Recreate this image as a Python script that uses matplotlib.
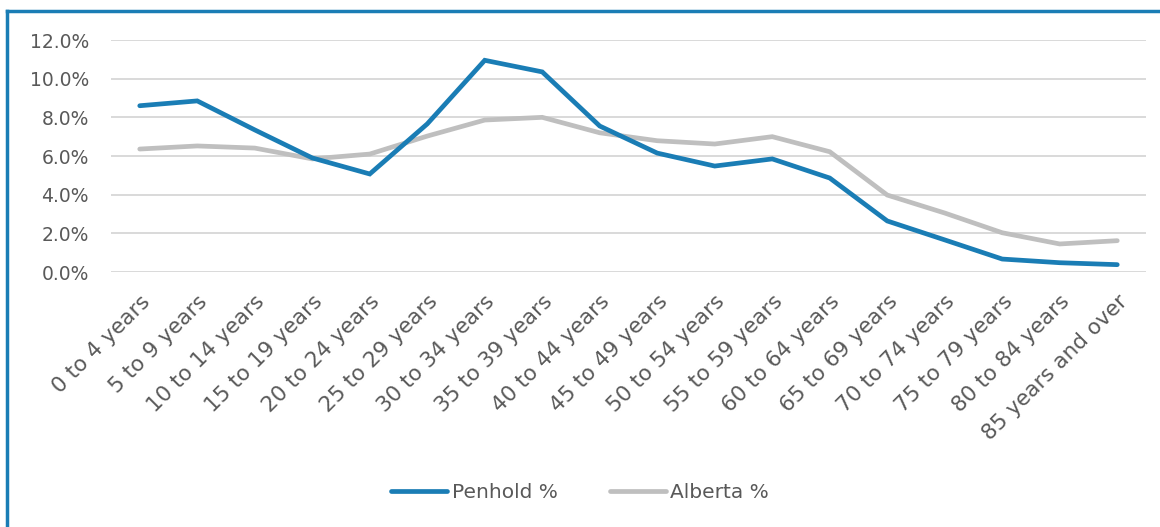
import matplotlib
matplotlib.use('Agg')
import matplotlib.pyplot as plt
from matplotlib.lines import Line2D
from matplotlib.ticker import FuncFormatter

# Datos: distribución por grupos de edad
age_groups = ["0 to 4 years", "5 to 9 years", "10 to 14 years", "15 to 19 years",
              "20 to 24 years", "25 to 29 years", "30 to 34 years", "35 to 39 years",
              "40 to 44 years", "45 to 49 years", "50 to 54 years", "55 to 59 years",
              "60 to 64 years", "65 to 69 years", "70 to 74 years", "75 to 79 years",
              "80 to 84 years", "85 years and over"]
penhold = [8.6, 8.85, 7.35, 5.9, 5.07, 7.66, 10.95, 10.35, 7.55, 6.15,
           5.48, 5.85, 4.86, 2.64, 1.66, 0.67, 0.48, 0.38]
alberta = [6.36, 6.52, 6.41, 5.85, 6.1, 7.03, 7.86, 8.0, 7.2, 6.79,
           6.62, 7.0, 6.22, 3.98, 3.05, 2.03, 1.45, 1.62]

plt.rcParams['font.family'] = ['DejaVu Sans']
text_color = '#595959'
blue = '#1a7db5'
gray = '#bfbfbf'

fig = plt.figure(figsize=(11.6, 5.27), dpi=100)
ax = fig.add_axes([111 / 1160, 1 - 272 / 527, 1035 / 1160, 232 / 527])

x = range(len(age_groups))
ax.plot(x, penhold, color=blue, linewidth=3.4, solid_capstyle='round',
        solid_joinstyle='miter', label='Penhold %', zorder=3)
ax.plot(x, alberta, color=gray, linewidth=3.4, solid_capstyle='round',
        solid_joinstyle='miter', label='Alberta %', zorder=2)

ax.set_xlim(-0.5, len(age_groups) - 0.5)
ax.set_ylim(0, 12)
ax.set_yticks([0, 2, 4, 6, 8, 10, 12])
ax.yaxis.set_major_formatter(FuncFormatter(lambda v, p: f"{v:.1f}%"))
ax.grid(axis='y', color='#d9d9d9', linewidth=1.4, zorder=0)
ax.set_axisbelow(True)
for s in ax.spines.values():
    s.set_visible(False)
ax.tick_params(axis='both', length=0, colors=text_color, labelsize=13.5)
ax.tick_params(axis='y', pad=16)

ax.set_xticks(list(x))
ax.set_xticklabels(age_groups, rotation=45, ha='right', rotation_mode='anchor',
                   color=text_color, fontsize=15.5)
ax.tick_params(axis='x', pad=14)

# Leyenda
leg = fig.legend(loc='center', bbox_to_anchor=(0.5, 1 - 493 / 527), ncol=2,
                 frameon=False, fontsize=14.5, handlelength=2.8, columnspacing=2.6,
                 handletextpad=0.2)
for t in leg.get_texts():
    t.set_color(text_color)

# Borde azul del recuadro
fig.add_artist(Line2D([7 / 1160, 7 / 1160], [0, 1 - 11 / 527], color=blue,
                      linewidth=2.5, transform=fig.transFigure))
fig.add_artist(Line2D([7 / 1160, 1], [1 - 11 / 527, 1 - 11 / 527], color=blue,
                      linewidth=2.5, transform=fig.transFigure))

fig.savefig('out.png', dpi=100)
plt.close(fig)
